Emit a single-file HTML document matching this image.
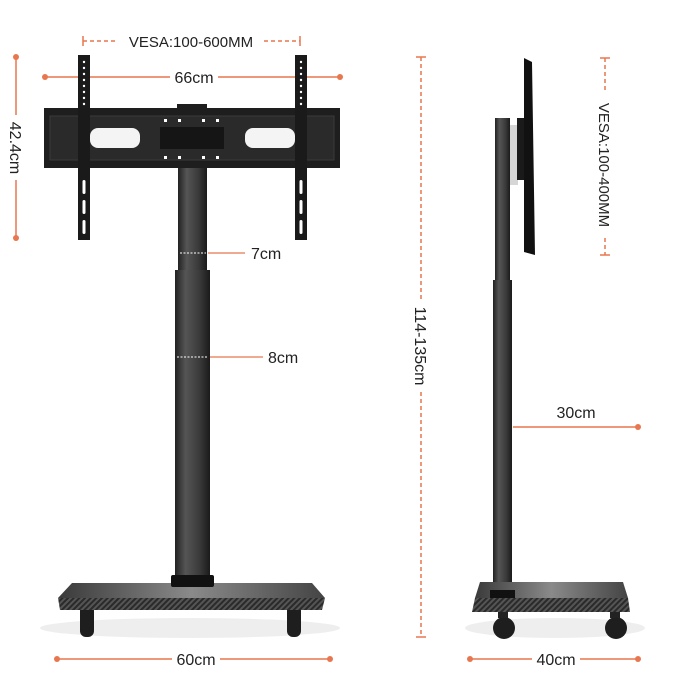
<!DOCTYPE html>
<html><head><meta charset="utf-8"><style>
html,body{margin:0;padding:0;background:#fff;width:700px;height:700px;overflow:hidden}
text{font-family:"Liberation Sans",sans-serif;fill:#222}
</style></head><body>
<svg width="700" height="700" viewBox="0 0 700 700" xmlns="http://www.w3.org/2000/svg">
<defs>
<linearGradient id="pole" x1="0" x2="1"><stop offset="0" stop-color="#222"/><stop offset="0.3" stop-color="#555"/><stop offset="0.7" stop-color="#3a3a3a"/><stop offset="1" stop-color="#1a1a1a"/></linearGradient>
<linearGradient id="plate" x1="0" x2="1"><stop offset="0" stop-color="#3a3a3a"/><stop offset="0.5" stop-color="#8a8a8a"/><stop offset="1" stop-color="#444"/></linearGradient>
<pattern id="carbon" width="4" height="4" patternUnits="userSpaceOnUse" patternTransform="rotate(45)"><rect width="4" height="4" fill="#2a2a2a"/><rect width="2" height="4" fill="#555"/></pattern>
</defs>
<g stroke="#e8774f" stroke-width="1.5" fill="none">
<line x1="83" y1="36" x2="83" y2="46"/><line x1="300" y1="36" x2="300" y2="46"/>
<line x1="83" y1="41" x2="118" y2="41" stroke-dasharray="4,3"/><line x1="264" y1="41" x2="300" y2="41" stroke-dasharray="4,3"/>
<line x1="45" y1="77" x2="170" y2="77"/><line x1="218" y1="77" x2="340" y2="77"/>
<line x1="16" y1="57" x2="16" y2="115"/><line x1="16" y1="180" x2="16" y2="238"/>
<line x1="208" y1="253" x2="245" y2="253" stroke-width="1.2"/>
<line x1="210" y1="357" x2="263" y2="357" stroke-width="1.2"/>
<line x1="421" y1="57" x2="421" y2="300" stroke-dasharray="4,3"/><line x1="421" y1="392" x2="421" y2="637" stroke-dasharray="4,3"/>
<line x1="416" y1="57" x2="426" y2="57"/><line x1="416" y1="637" x2="426" y2="637"/>
<line x1="600" y1="58" x2="610" y2="58"/><line x1="600" y1="255" x2="610" y2="255"/>
<line x1="605" y1="58" x2="605" y2="92" stroke-dasharray="4,3"/><line x1="605" y1="238" x2="605" y2="255" stroke-dasharray="4,3"/>
<line x1="513" y1="427" x2="638" y2="427"/>
<line x1="57" y1="659" x2="172" y2="659"/><line x1="220" y1="659" x2="330" y2="659"/>
<line x1="470" y1="659" x2="532" y2="659"/><line x1="580" y1="659" x2="638" y2="659"/>
</g>
<g fill="#e8774f">
<circle cx="45" cy="77" r="3"/><circle cx="340" cy="77" r="3"/>
<circle cx="16" cy="57" r="3"/><circle cx="16" cy="238" r="3"/>
<circle cx="638" cy="427" r="3"/>
<circle cx="57" cy="659" r="3"/><circle cx="330" cy="659" r="3"/>
<circle cx="470" cy="659" r="3"/><circle cx="638" cy="659" r="3"/>
</g>
<text x="191" y="47" font-size="15" text-anchor="middle">VESA:100-600MM</text>
<text x="194" y="83" font-size="16" text-anchor="middle">66cm</text>
<text font-size="16" text-anchor="middle" transform="translate(10,148) rotate(90)">42.4cm</text>
<text x="251" y="259" font-size="16">7cm</text>
<text x="268" y="363" font-size="16">8cm</text>
<text font-size="16" text-anchor="middle" transform="translate(415,346) rotate(90)">114-135cm</text>
<text font-size="15" text-anchor="middle" transform="translate(599,165) rotate(90)">VESA:100-400MM</text>
<text x="576" y="418" font-size="16" text-anchor="middle">30cm</text>
<text x="196" y="665" font-size="16" text-anchor="middle">60cm</text>
<text x="556" y="665" font-size="16" text-anchor="middle">40cm</text>

<ellipse cx="190" cy="628" rx="150" ry="10" fill="#eee"/>
<rect x="80" y="605" width="14" height="32" rx="6" fill="#1e1e1e"/>
<rect x="287" y="605" width="14" height="32" rx="6" fill="#1e1e1e"/>
<polygon points="72,583 312,583 325,598 58,598" fill="url(#plate)"/>
<polygon points="58,598 325,598 322,610 60,610" fill="url(#carbon)"/>
<rect x="178" y="165" width="29" height="108" fill="url(#pole)"/>
<rect x="175" y="270" width="35" height="310" fill="url(#pole)"/>
<rect x="171" y="575" width="43" height="12" rx="2" fill="#111"/>
<line x1="180" y1="253" x2="206" y2="253" stroke="#fff" stroke-dasharray="2,1.5"/>
<line x1="177" y1="357" x2="208" y2="357" stroke="#fff" stroke-dasharray="2,1.5"/>
<rect x="44" y="108" width="296" height="60" fill="#1e1e1e"/>
<rect x="177" y="104" width="30" height="6" fill="#1e1e1e"/>
<rect x="50" y="116" width="284" height="44" fill="#2a2a2a" stroke="#3b3b3b"/>
<rect x="90" y="128" width="50" height="20" rx="8" fill="#f4f4f4"/>
<rect x="245" y="128" width="50" height="20" rx="8" fill="#f4f4f4"/>
<rect x="160" y="127" width="64" height="22" fill="#151515"/>
<g fill="#fff"><rect x="164" y="119" width="3" height="3"/><rect x="178" y="119" width="3" height="3"/><rect x="202" y="119" width="3" height="3"/><rect x="216" y="119" width="3" height="3"/>
<rect x="164" y="156" width="3" height="3"/><rect x="178" y="156" width="3" height="3"/><rect x="202" y="156" width="3" height="3"/><rect x="216" y="156" width="3" height="3"/></g>
<rect x="78" y="55" width="12" height="185" fill="#1a1a1a"/>
<rect x="295" y="55" width="12" height="185" fill="#1a1a1a"/>
<g fill="#fff">
<circle cx="84" cy="62" r="1.2"/><circle cx="84" cy="68" r="1.2"/><circle cx="84" cy="74" r="1.2"/><circle cx="84" cy="80" r="1.2"/><circle cx="84" cy="86" r="1.2"/><circle cx="84" cy="92" r="1.2"/><circle cx="84" cy="98" r="1.2"/><circle cx="84" cy="104" r="1.2"/>
<circle cx="301" cy="62" r="1.2"/><circle cx="301" cy="68" r="1.2"/><circle cx="301" cy="74" r="1.2"/><circle cx="301" cy="80" r="1.2"/><circle cx="301" cy="86" r="1.2"/><circle cx="301" cy="92" r="1.2"/><circle cx="301" cy="98" r="1.2"/><circle cx="301" cy="104" r="1.2"/>
<rect x="82.5" y="180" width="3" height="14" rx="1.5"/><rect x="82.5" y="200" width="3" height="14" rx="1.5"/><rect x="82.5" y="220" width="3" height="14" rx="1.5"/>
<rect x="299.5" y="180" width="3" height="14" rx="1.5"/><rect x="299.5" y="200" width="3" height="14" rx="1.5"/><rect x="299.5" y="220" width="3" height="14" rx="1.5"/>
</g>

<ellipse cx="555" cy="628" rx="90" ry="10" fill="#eee"/>
<circle cx="504" cy="628" r="11" fill="#1e1e1e"/>
<circle cx="616" cy="628" r="11" fill="#1e1e1e"/>
<rect x="498" y="606" width="10" height="12" fill="#222"/><rect x="610" y="606" width="10" height="12" fill="#222"/>
<polygon points="480,582 623,582 628,598 475,598" fill="url(#plate)"/>
<polygon points="475,598 628,598 630,612 472,612" fill="url(#carbon)"/>
<rect x="495" y="118" width="15" height="165" fill="url(#pole)"/>
<rect x="493" y="280" width="19" height="302" fill="url(#pole)"/>
<rect x="490" y="590" width="25" height="8" fill="#111"/>
<rect x="510" y="125" width="8" height="60" fill="#bbb" opacity="0.6"/>
<rect x="517" y="118" width="10" height="62" fill="#1a1a1a"/>
<path d="M524,58 L532,62 L535,255 L524,252 Z" fill="#111"/>
</svg>
</body></html>
